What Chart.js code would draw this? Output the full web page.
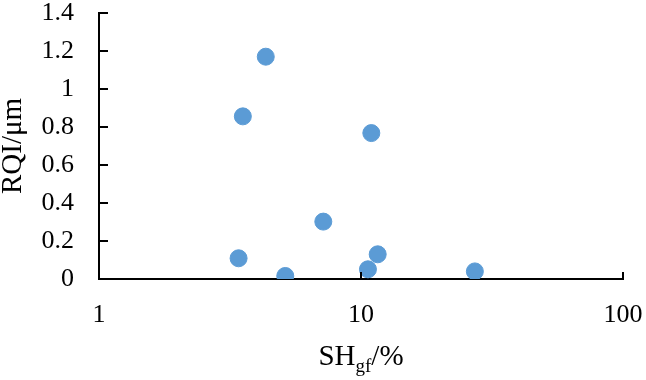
<!DOCTYPE html>
<html>
<head>
    <title>RQI vs SHgf</title>
    <script src="https://cdn.jsdelivr.net/npm/chart.js"></script>
    <style>
        body {
            margin: 0;
            padding: 0;
            background-color: #fff;
            overflow: hidden;
        }
        #wrap {
            position: relative;
            width: 646px;
            height: 380px;
        }
    </style>
</head>
<body>
    <div id="wrap">
        <canvas id="myChart" width="646" height="380"></canvas>
    </div>

    <script>
        // datos
        const shgf = [4.33, 3.54, 10.95, 7.18, 3.41, 5.14, 10.63, 11.58, 27.2];
        const rqi = [1.17, 0.856, 0.768, 0.302, 0.109, 0.016, 0.051, 0.130, 0.040];
        const xTicks = [1, 10, 100];
        const yTicks = [0, 0.2, 0.4, 0.6, 0.8, 1, 1.2, 1.4];

        const serif = "'Liberation Serif', 'Times New Roman', serif";
        const fontSize = 26;
        const titleSize = 29;

        // marcas de eje hacia dentro + título del eje x con subíndice
        const axisExtras = {
            id: 'axisExtras',
            afterDraw(chart) {
                const c = chart.ctx;
                const xs = chart.scales.x, ys = chart.scales.y;
                c.save();
                c.strokeStyle = '#000';
                c.lineWidth = 2;
                yTicks.forEach(v => {
                    const py = Math.round(ys.getPixelForValue(v));
                    c.beginPath();
                    c.moveTo(xs.left, py);
                    c.lineTo(xs.left + 9, py);
                    c.stroke();
                });
                xTicks.slice(1).forEach(v => {
                    const px = Math.round(xs.getPixelForValue(v));
                    c.beginPath();
                    c.moveTo(px, ys.bottom);
                    c.lineTo(px, ys.bottom - 7);
                    c.stroke();
                });

                // título SH_gf/%
                c.fillStyle = '#000';
                c.textBaseline = 'alphabetic';
                const main = titleSize + 'px ' + serif;
                const sub = Math.round(titleSize * 0.65) + 'px ' + serif;
                c.font = main;
                const wSH = c.measureText('SH').width;
                const wPct = c.measureText('/%').width;
                c.font = sub;
                const wSub = c.measureText('gf').width;
                const total = wSH + wSub + wPct;
                let x0 = (xs.left + xs.right) / 2 - total / 2;
                const base = 365;
                c.font = main;
                c.fillText('SH', x0, base);
                c.font = sub;
                c.fillText('gf', x0 + wSH, base + 7);
                c.font = main;
                c.fillText('/%', x0 + wSH + wSub, base);
                c.restore();
            }
        };

        new Chart(document.getElementById('myChart'), {
            type: 'scatter',
            data: {
                datasets: [{
                    data: shgf.map((v, i) => ({ x: v, y: rqi[i] })),
                    backgroundColor: '#5B9BD5',
                    borderColor: '#5B9BD5',
                    pointRadius: 8.5,
                    pointHoverRadius: 8.5
                }]
            },
            plugins: [axisExtras],
            options: {
                responsive: false,
                animation: false,
                layout: {
                    padding: { top: 13, right: 23, left: 0, bottom: 0 }
                },
                plugins: {
                    legend: { display: false },
                    tooltip: { enabled: false }
                },
                scales: {
                    x: {
                        type: 'logarithmic',
                        min: 1,
                        max: 100,
                        afterBuildTicks: s => { s.ticks = xTicks.map(v => ({ value: v })); },
                        afterFit: s => {
                            s.height = 101;
                            s.paddingLeft = 0;
                            s.paddingRight = 0;
                        },
                        grid: { display: false, drawTicks: false },
                        border: { display: true, color: '#000', width: 2 },
                        ticks: {
                            color: '#000',
                            padding: 21,
                            maxRotation: 0,
                            autoSkip: false,
                            font: { family: serif, size: fontSize },
                            callback: v => String(v)
                        }
                    },
                    y: {
                        min: 0,
                        max: 1.4,
                        afterBuildTicks: s => { s.ticks = yTicks.map(v => ({ value: v })); },
                        afterFit: s => {
                            s.width = 99;
                            s.paddingTop = 0;
                            s.paddingBottom = 0;
                        },
                        grid: { display: false, drawTicks: false },
                        border: { display: true, color: '#000', width: 2 },
                        title: {
                            display: true,
                            text: 'RQI/μm',
                            color: '#000',
                            padding: 0,
                            font: { family: serif, size: titleSize, lineHeight: 0.9 }
                        },
                        ticks: {
                            color: '#000',
                            padding: 25,
                            autoSkip: false,
                            font: { family: serif, size: fontSize },
                            callback: v => String(v)
                        }
                    }
                }
            }
        });
    </script>
</body>
</html>
